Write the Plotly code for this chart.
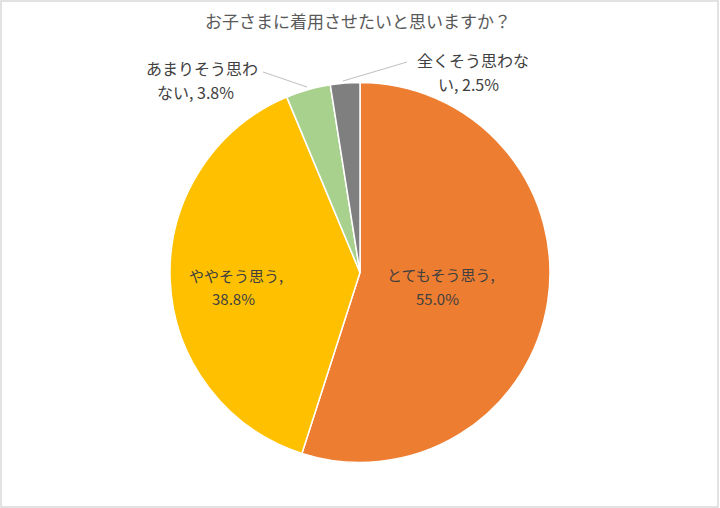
import plotly.graph_objects as go

# データ
labels = ['とてもそう思う', 'ややそう思う', 'あまりそう思わない', '全くそう思わない']
values = [55.0, 38.8, 3.8, 2.5]
colors = ['#ED7D31', '#FFC000', '#A9D18E', '#7F7F7F']
label_lines = [
    ['とてもそう思う,', '55.0%'],
    ['ややそう思う,', '38.8%'],
    ['あまりそう思わ', 'ない, 3.8%'],
    ['全くそう思わな', 'い, 2.5%'],
]

W, H = 720, 508
FONT = 'Noto Sans CJK JP'

fig = go.Figure()

fig.add_trace(
    go.Pie(
        labels=labels,
        values=values,
        textinfo='none',
        marker=dict(colors=colors, line=dict(color='white', width=1.5)),
        sort=False,
        direction='clockwise',
        rotation=0,
        showlegend=False,
        hoverinfo='label+percent',
        domain=dict(x=[170 / W, 550 / W], y=[(H - 463) / H, (H - 82) / H]),
    )
)

# ラベル位置 (ピクセル, 各行の中心)
label_pos = [
    [(441, 274), (438, 298)],
    [(236, 275), (233, 298)],
    [(202, 68), (196, 92)],
    [(473, 60), (468, 84)],
]
sizes = [15, 15, 16, 16]
for lines, pos, sz in zip(label_lines, label_pos, sizes):
    for txt, (px, py) in zip(lines, pos):
        fig.add_annotation(x=px / W, y=1 - py / H, xref='paper', yref='paper',
                           text=txt, showarrow=False,
                           xanchor='center', yanchor='middle',
                           font=dict(family=FONT, size=sz, color='#404040'))

# 引き出し線
fig.add_shape(type='line', xref='paper', yref='paper',
              x0=263 / W, y0=1 - 72 / H, x1=307 / W, y1=1 - 87 / H,
              line=dict(color='#BFBFBF', width=1))
fig.add_shape(type='line', xref='paper', yref='paper',
              x0=343 / W, y0=1 - 81 / H, x1=407 / W, y1=1 - 62 / H,
              line=dict(color='#BFBFBF', width=1))

# 枠線
fig.add_shape(type='rect', xref='paper', yref='paper',
              x0=1 / W, y0=1 / H, x1=1 - 2 / W, y1=1 - 1 / H,
              line=dict(color='#D9D9D9', width=1.5))

fig.update_layout(
    title=dict(text='お子さまに着用させたいと思いますか？', x=358 / W, y=1 - 22 / H,
               xanchor='center', yanchor='middle',
               font=dict(family=FONT, size=17, color='#595959')),
    width=W, height=H,
    margin=dict(l=0, r=0, t=0, b=0),
    paper_bgcolor='white',
)

fig.write_html('out.html', config={'displayModeBar': False},
               post_script="document.body.style.margin='0';")
